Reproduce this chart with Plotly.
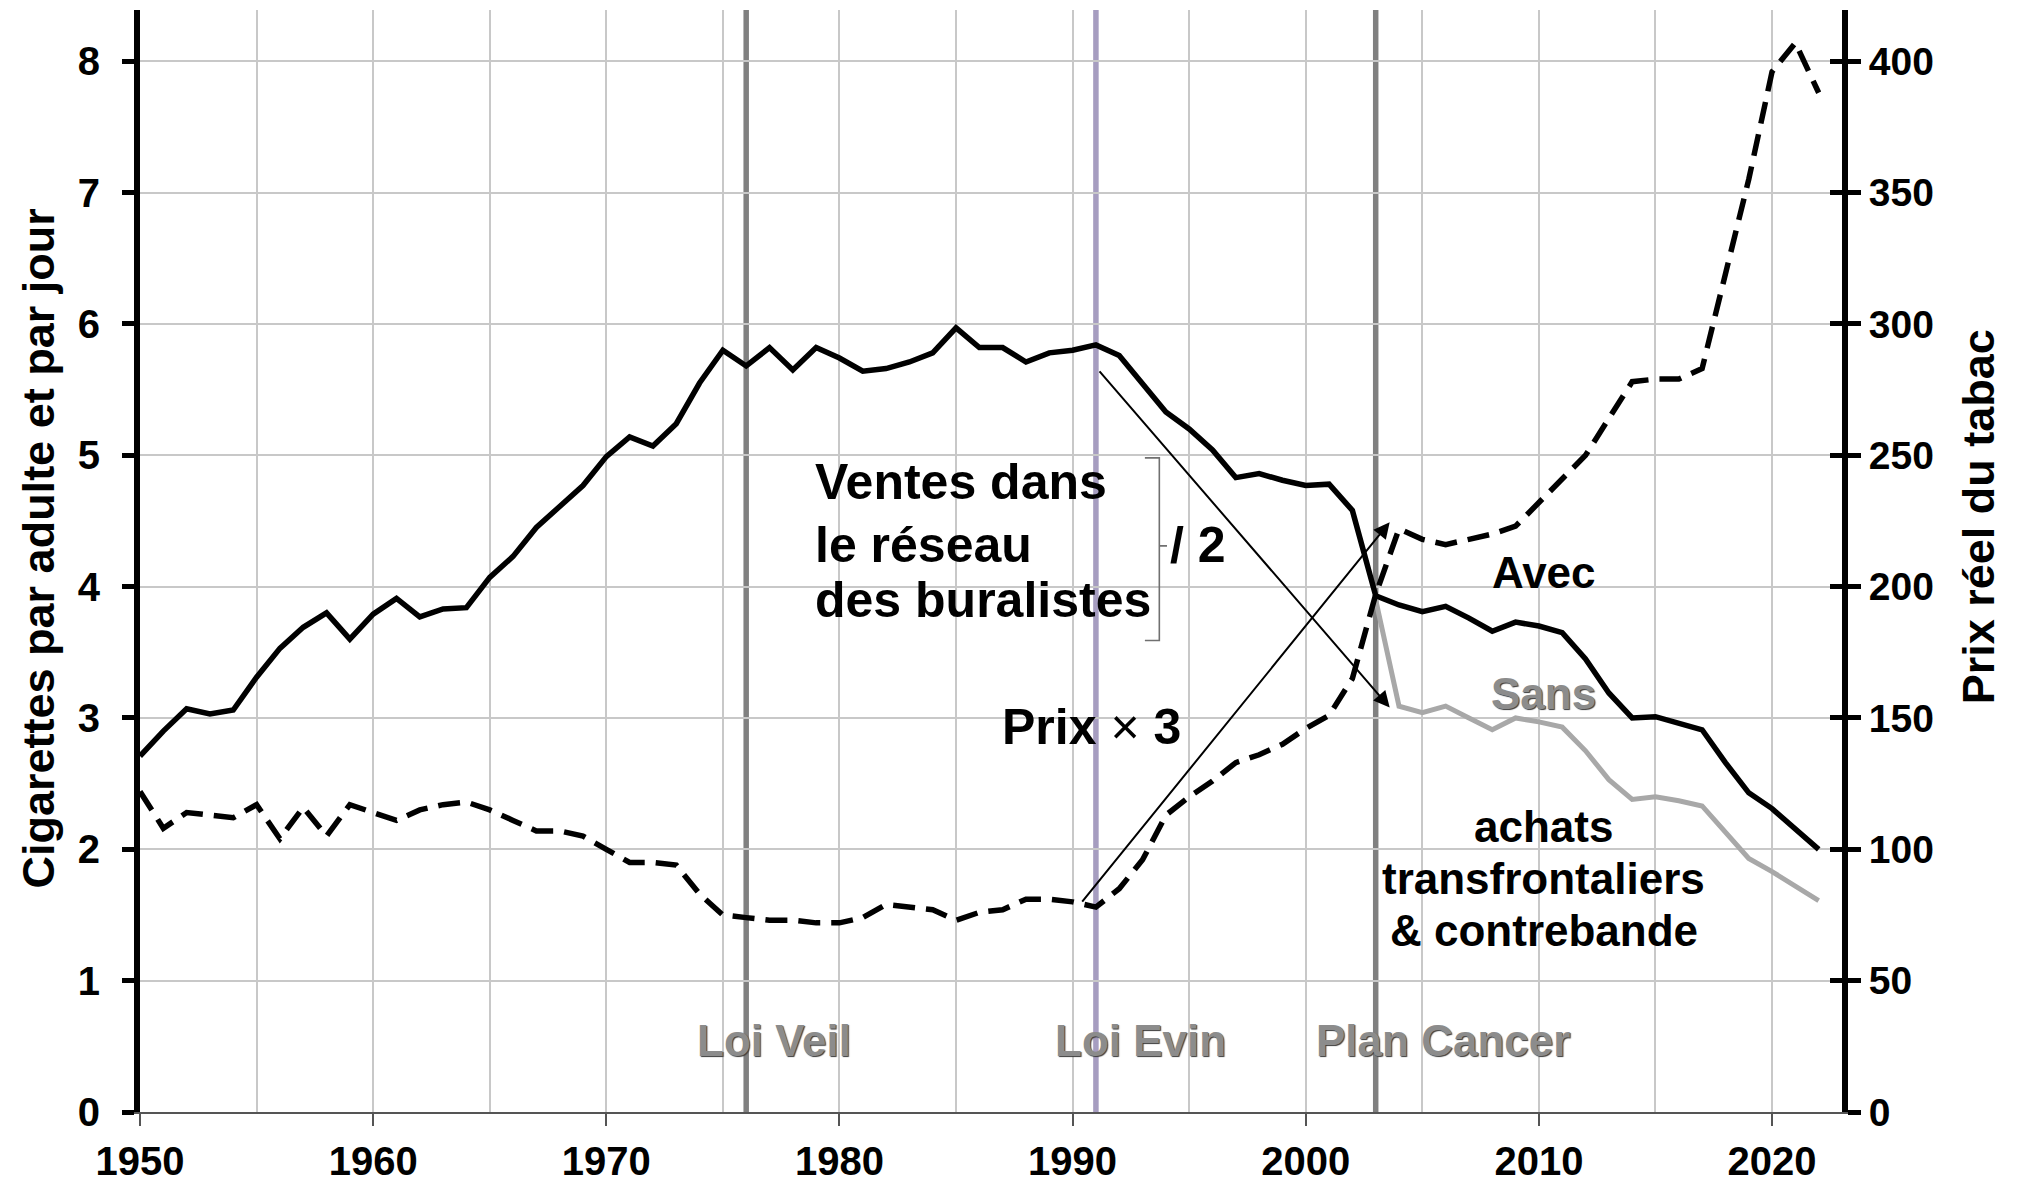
import plotly.graph_objects as go

# ---------------- data ----------------
years = list(range(1950, 2023))

ventes_avec = [
    2.71, 2.90, 3.07, 3.03, 3.06, 3.31, 3.53, 3.69, 3.80, 3.60,   # 1950-1959
    3.79, 3.91, 3.77, 3.83, 3.84, 4.07, 4.23, 4.45, 4.61, 4.77,   # 1960-1969
    4.99, 5.14, 5.07, 5.24, 5.55, 5.80, 5.68, 5.82, 5.65, 5.82,   # 1970-1979
    5.74, 5.64, 5.66, 5.71, 5.78, 5.97, 5.82, 5.82, 5.71, 5.78,   # 1980-1989
    5.80, 5.84, 5.76, 5.55, 5.33, 5.20, 5.04, 4.83, 4.86, 4.81,   # 1990-1999
    4.77, 4.78, 4.58, 3.93, 3.86, 3.81, 3.85, 3.76, 3.66, 3.73,   # 2000-2009
    3.70, 3.65, 3.45, 3.19, 3.00, 3.01, 2.96, 2.91, 2.66, 2.43,   # 2010-2019
    2.31, 2.16, 2.00,                                             # 2020-2022
]

years_sans = list(range(2003, 2023))
ventes_sans = [
    3.90, 3.09, 3.04, 3.09, 3.00, 2.91, 3.00, 2.97, 2.93, 2.75,   # 2003-2012
    2.53, 2.38, 2.40, 2.37, 2.33, 2.13, 1.93, 1.83, 1.72, 1.61,   # 2013-2022
]

prix_reel = [
    122, 108, 114, 113, 112, 117, 104, 116, 105, 117,   # 1950-1959
    114, 111, 115, 117, 118, 115, 111, 107, 107, 105,   # 1960-1969
    100, 95, 95, 94, 83, 75, 74, 73, 73, 72,            # 1970-1979
    72, 74, 79, 78, 77, 73, 76, 77, 81, 81,             # 1980-1989
    80, 78, 85, 96, 113, 120, 126, 133, 136, 140,       # 1990-1999
    146, 151, 165, 197, 222, 218, 216, 218, 220, 223,   # 2000-2009
    232, 241, 250, 264, 278, 279, 279, 283, 318, 355,   # 2010-2019
    396, 407, 388,                                      # 2020-2022
]

event_years = [1976, 1991, 2003]
event_labels = ["Loi Veil", "Loi Evin", "Plan Cancer"]
event_colors = ["#808080", "#a69dc0", "#808080"]
event_label_x = [1977.2, 1992.9, 2005.9]

left_ticks = [0, 1, 2, 3, 4, 5, 6, 7, 8]
right_ticks = [0, 50, 100, 150, 200, 250, 300, 350, 400]
x_ticks = [1950, 1960, 1970, 1980, 1990, 2000, 2010, 2020]

# ---------------- style ----------------
FONT = "Liberation Sans, Arial, sans-serif"
GRID = "#c8c8c8"
LABEL_GREY = "#8c8c8c"
SHADOW = "1px 1px 1px #3a3a3a"

fig = go.Figure()

fig.add_trace(go.Scatter(
    x=years, y=ventes_avec, mode="lines", name="Avec",
    line=dict(color="black", width=5.5), yaxis="y",
))
fig.add_trace(go.Scatter(
    x=years_sans, y=ventes_sans, mode="lines", name="Sans",
    line=dict(color="#a8a8a8", width=5), yaxis="y",
))
fig.add_trace(go.Scatter(
    x=years, y=prix_reel, mode="lines", name="Prix réel",
    line=dict(color="black", width=5.5, dash="22px,11px"), yaxis="y2",
))

# vertical event lines
shapes = []
for yr, col in zip(event_years, event_colors):
    shapes.append(dict(type="line", xref="x", yref="paper", x0=yr, x1=yr,
                       y0=0, y1=1, line=dict(color=col, width=5.5),
                       layer="between"))

# bracket "}" next to the sales label
shapes.append(dict(
    type="path", xref="x", yref="y",
    path="M 1993.1 4.98 L 1993.72 4.98 L 1993.72 3.59 L 1993.1 3.59 "
         "M 1993.72 4.31 L 1994.05 4.31",
    line=dict(color="#707070", width=1.6), layer="above",
))

annotations = []
# axis titles
annotations.append(dict(
    x=-0.0599, y=0.5114, xref="paper", yref="paper", textangle=-90,
    text="Cigarettes par adulte et par jour", showarrow=False,
    xanchor="center", yanchor="middle",
    font=dict(family=FONT, size=45, color="black", weight="bold"),
))
annotations.append(dict(
    x=1.0799, y=0.5405, xref="paper", yref="paper", textangle=-90,
    text="Prix réel du tabac", showarrow=False,
    xanchor="center", yanchor="middle",
    font=dict(family=FONT, size=45, color="black", weight="bold"),
))
# event labels
for lab, lx in zip(event_labels, event_label_x):
    annotations.append(dict(
        x=lx, y=0.545, xref="x", yref="y", text=lab, showarrow=False,
        xanchor="center", yanchor="middle",
        font=dict(family=FONT, size=44, color=LABEL_GREY, weight="bold",
                  shadow=SHADOW),
    ))

# sales label lines
for txt, yy in zip(["Ventes dans", "le réseau", "des buralistes"], [4.80, 4.32, 3.90]):
    annotations.append(dict(
        x=1978.87, y=yy, xref="x", yref="y", text=txt, showarrow=False,
        xanchor="left", yanchor="middle",
        font=dict(family=FONT, size=50, color="black", weight="bold"),
    ))
annotations.append(dict(
    x=1994.1, y=4.32, xref="x", yref="y", text="/ 2", showarrow=False,
    xanchor="left", yanchor="middle",
    font=dict(family=FONT, size=50, color="black", weight="bold"),
))
annotations.append(dict(
    x=1986.9, y=2.93, xref="x", yref="y", text="<b>Prix</b> × <b>3</b>",
    showarrow=False, xanchor="left", yanchor="middle",
    font=dict(family=FONT, size=50, color="black"),
))
annotations.append(dict(
    x=2010.2, y=4.11, xref="x", yref="y", text="Avec", showarrow=False,
    xanchor="center", yanchor="middle",
    font=dict(family=FONT, size=44, color="black", weight="bold"),
))
annotations.append(dict(
    x=2010.2, y=3.19, xref="x", yref="y", text="Sans", showarrow=False,
    xanchor="center", yanchor="middle",
    font=dict(family=FONT, size=44, color=LABEL_GREY, weight="bold", shadow=SHADOW),
))
for txt, yy in zip(["achats", "transfrontaliers", "& contrebande"], [2.17, 1.78, 1.38]):
    annotations.append(dict(
        x=2010.2, y=yy, xref="x", yref="y", text=txt, showarrow=False,
        xanchor="center", yanchor="middle",
        font=dict(family=FONT, size=44, color="black", weight="bold"),
    ))

# arrows (tail -> head)
arrows = [
    ((1991.1, 5.65), (2003.6, 3.08)),
    ((1990.36, 1.59), (2003.6, 4.49)),
]
for (tx, ty), (hx, hy) in arrows:
    annotations.append(dict(
        x=hx, y=hy, ax=tx, ay=ty, xref="x", yref="y", axref="x", ayref="y",
        text="", showarrow=True, arrowhead=2, arrowsize=1.6, arrowwidth=2,
        arrowcolor="black", standoff=0, startstandoff=0,
    ))

fig.update_layout(
    width=1999, height=1177,
    margin=dict(l=132, r=165, t=2, b=73, autoexpand=False),
    paper_bgcolor="white", plot_bgcolor="white",
    showlegend=False,
    font=dict(family=FONT, color="black"),
    shapes=shapes, annotations=annotations,
    xaxis=dict(
        range=[1950, 2023], tickvals=x_ticks, ticktext=[str(v) for v in x_ticks],
        showgrid=True, gridcolor=GRID, gridwidth=2,
        minor=dict(dtick=5, tick0=1950, showgrid=True, gridcolor=GRID, gridwidth=2),
        showline=True, linecolor="#555555", linewidth=2,
        ticks="outside", ticklen=12, tickwidth=2, tickcolor="#555555",
        tickfont=dict(family=FONT, size=40, color="black", weight="bold"),
        ticklabelstandoff=1,
        zeroline=False, fixedrange=True,
    ),
    yaxis=dict(
        range=[0, 8.39], tickvals=left_ticks,
        showgrid=True, gridcolor=GRID, gridwidth=2,
        showline=True, linecolor="black", linewidth=6,
        ticks="outside", ticklen=12, tickwidth=5, tickcolor="black",
        tickfont=dict(family=FONT, size=40, color="black", weight="bold"),
        ticklabelstandoff=14,
        zeroline=False,
    ),
    yaxis2=dict(
        range=[0, 419.5], tickvals=right_ticks, overlaying="y", side="right",
        anchor="x", showgrid=False,
        showline=True, linecolor="black", linewidth=6,
        ticks="outside", ticklen=13, tickwidth=5, tickcolor="black",
        tickfont=dict(family=FONT, size=39, color="black", weight="bold"),
        ticklabelstandoff=0,
        zeroline=False,
    ),
    yaxis3=dict(
        range=[0, 419.5], tickvals=right_ticks, overlaying="y", side="right",
        anchor="x", showgrid=False, showline=False, showticklabels=False,
        ticks="inside", ticklen=12, tickwidth=5, tickcolor="black", zeroline=False,
    ),
)

# invisible helper trace so the inside-tick overlay axis is rendered
fig.add_trace(go.Scatter(x=[1950], y=[0], mode="markers", marker=dict(opacity=0),
                         yaxis="y3", hoverinfo="skip", showlegend=False))

fig.write_html("out.html")
